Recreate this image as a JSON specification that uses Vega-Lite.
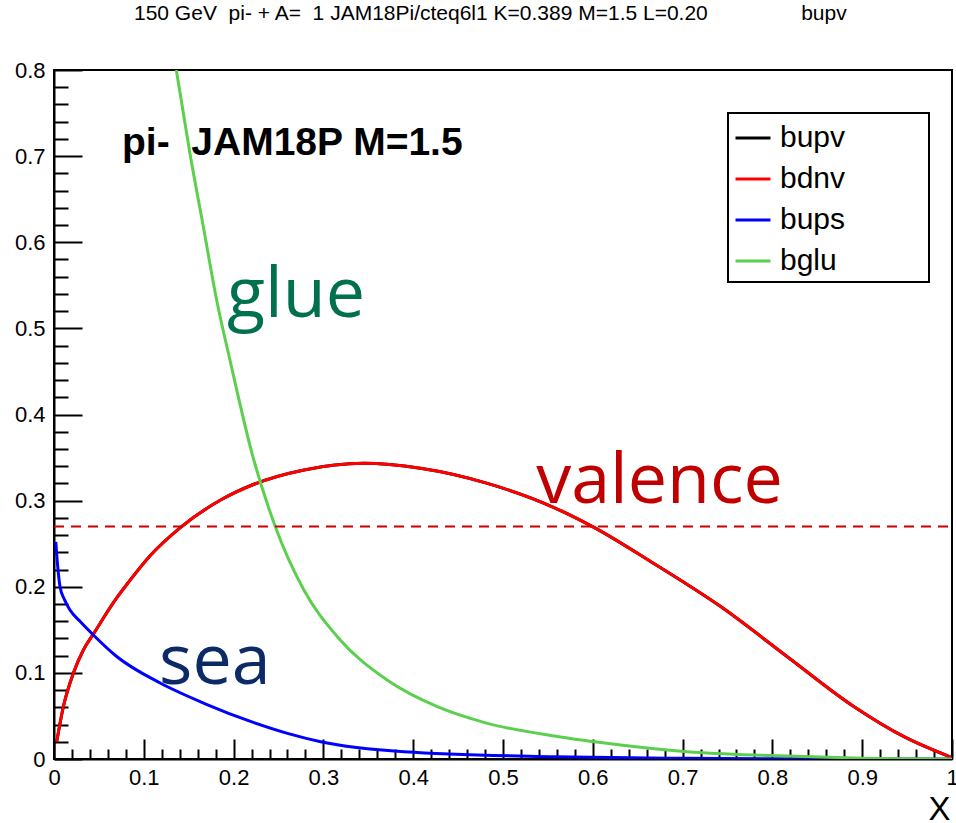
{
  "$schema": "https://vega.github.io/schema/vega-lite/v6.json",
  "width": 898,
  "height": 689,
  "autosize": "none",
  "padding": {"left": 54, "top": 70, "right": 4, "bottom": 64},
  "background": "white",
  "title": {
    "text": "150 GeV\u00a0\u00a0pi- + A=\u00a0\u00a01 JAM18Pi/cteq6l1 K=0.389 M=1.5 L=0.20\u00a0\u00a0\u00a0\u00a0\u00a0\u00a0\u00a0\u00a0\u00a0\u00a0\u00a0\u00a0\u00a0\u00a0\u00a0\u00a0bupv",
    "font": "Liberation Sans",
    "fontSize": 21,
    "fontWeight": "normal",
    "color": "black",
    "anchor": "start",
    "frame": "group",
    "dx": 80,
    "offset": 18,
    "baseline": "alphabetic"
  },
  "config": {
    "view": {"stroke": "black", "strokeWidth": 2},
    "axis": {
      "domainColor": "black",
      "domainWidth": 2,
      "tickColor": "black",
      "tickWidth": 2,
      "grid": false,
      "labelFont": "Liberation Sans",
      "labelFontSize": 22,
      "labelColor": "black",
      "labelOverlap": false,
      "labelFlush": false,
      "labelBound": false
    }
  },
  "datasets": {
    "curves": [
      {"series": "bupv", "x": 0.003, "y": 0.020},
      {"series": "bupv", "x": 0.0104, "y": 0.0607},
      {"series": "bupv", "x": 0.0215, "y": 0.0995},
      {"series": "bupv", "x": 0.0327, "y": 0.1266},
      {"series": "bupv", "x": 0.0438, "y": 0.145},
      {"series": "bupv", "x": 0.0698, "y": 0.187},
      {"series": "bupv", "x": 0.0828, "y": 0.205},
      {"series": "bupv", "x": 0.107, "y": 0.236},
      {"series": "bupv", "x": 0.141, "y": 0.269},
      {"series": "bupv", "x": 0.186, "y": 0.301},
      {"series": "bupv", "x": 0.2227, "y": 0.319},
      {"series": "bupv", "x": 0.2784, "y": 0.3356},
      {"series": "bupv", "x": 0.345, "y": 0.3433},
      {"series": "bupv", "x": 0.408, "y": 0.3375},
      {"series": "bupv", "x": 0.4826, "y": 0.320},
      {"series": "bupv", "x": 0.5568, "y": 0.292},
      {"series": "bupv", "x": 0.6013, "y": 0.269},
      {"series": "bupv", "x": 0.668, "y": 0.227},
      {"series": "bupv", "x": 0.7424, "y": 0.177},
      {"series": "bupv", "x": 0.8166, "y": 0.1188},
      {"series": "bupv", "x": 0.891, "y": 0.0607},
      {"series": "bupv", "x": 0.9465, "y": 0.0259},
      {"series": "bupv", "x": 0.999, "y": 0.002},
      {"series": "bdnv", "x": 0.003, "y": 0.020},
      {"series": "bdnv", "x": 0.0104, "y": 0.0607},
      {"series": "bdnv", "x": 0.0215, "y": 0.0995},
      {"series": "bdnv", "x": 0.0327, "y": 0.1266},
      {"series": "bdnv", "x": 0.0438, "y": 0.145},
      {"series": "bdnv", "x": 0.0698, "y": 0.187},
      {"series": "bdnv", "x": 0.0828, "y": 0.205},
      {"series": "bdnv", "x": 0.107, "y": 0.236},
      {"series": "bdnv", "x": 0.141, "y": 0.269},
      {"series": "bdnv", "x": 0.186, "y": 0.301},
      {"series": "bdnv", "x": 0.2227, "y": 0.319},
      {"series": "bdnv", "x": 0.2784, "y": 0.3356},
      {"series": "bdnv", "x": 0.345, "y": 0.3433},
      {"series": "bdnv", "x": 0.408, "y": 0.3375},
      {"series": "bdnv", "x": 0.4826, "y": 0.320},
      {"series": "bdnv", "x": 0.5568, "y": 0.292},
      {"series": "bdnv", "x": 0.6013, "y": 0.269},
      {"series": "bdnv", "x": 0.668, "y": 0.227},
      {"series": "bdnv", "x": 0.7424, "y": 0.177},
      {"series": "bdnv", "x": 0.8166, "y": 0.1188},
      {"series": "bdnv", "x": 0.891, "y": 0.0607},
      {"series": "bdnv", "x": 0.9465, "y": 0.0259},
      {"series": "bdnv", "x": 0.999, "y": 0.002},
      {"series": "bups", "x": 0.002, "y": 0.252},
      {"series": "bups", "x": 0.004, "y": 0.225},
      {"series": "bups", "x": 0.0067, "y": 0.200},
      {"series": "bups", "x": 0.0117, "y": 0.185},
      {"series": "bups", "x": 0.0178, "y": 0.173},
      {"series": "bups", "x": 0.0297, "y": 0.159},
      {"series": "bups", "x": 0.0438, "y": 0.144},
      {"series": "bups", "x": 0.0698, "y": 0.119},
      {"series": "bups", "x": 0.1188, "y": 0.0879},
      {"series": "bups", "x": 0.167, "y": 0.0647},
      {"series": "bups", "x": 0.2227, "y": 0.0422},
      {"series": "bups", "x": 0.26, "y": 0.0298},
      {"series": "bups", "x": 0.297, "y": 0.0201},
      {"series": "bups", "x": 0.3898, "y": 0.0085},
      {"series": "bups", "x": 0.5568, "y": 0.0027},
      {"series": "bups", "x": 0.7, "y": 0.0008},
      {"series": "bups", "x": 0.85, "y": 0.0002},
      {"series": "bups", "x": 1.0, "y": 0.0},
      {"series": "bglu", "x": 0.1362, "y": 0.8},
      {"series": "bglu", "x": 0.1514, "y": 0.703},
      {"series": "bglu", "x": 0.1663, "y": 0.618},
      {"series": "bglu", "x": 0.1811, "y": 0.533},
      {"series": "bglu", "x": 0.196, "y": 0.463},
      {"series": "bglu", "x": 0.222, "y": 0.349},
      {"series": "bglu", "x": 0.2469, "y": 0.2686},
      {"series": "bglu", "x": 0.2784, "y": 0.196},
      {"series": "bglu", "x": 0.3155, "y": 0.142},
      {"series": "bglu", "x": 0.371, "y": 0.0917},
      {"series": "bglu", "x": 0.4269, "y": 0.0607},
      {"series": "bglu", "x": 0.4826, "y": 0.0414},
      {"series": "bglu", "x": 0.5568, "y": 0.0267},
      {"series": "bglu", "x": 0.631, "y": 0.0163},
      {"series": "bglu", "x": 0.705, "y": 0.0085},
      {"series": "bglu", "x": 0.798, "y": 0.004},
      {"series": "bglu", "x": 0.89, "y": 0.0012},
      {"series": "bglu", "x": 1.0, "y": 0.0}
    ]
  },
  "encoding": {
    "x": {
      "field": "x",
      "type": "quantitative",
      "scale": {"domain": [0, 1], "nice": false, "zero": false},
      "axis": {
        "values": [0, 0.02, 0.04, 0.06, 0.08, 0.1, 0.12, 0.14, 0.16, 0.18, 0.2, 0.22, 0.24, 0.26, 0.28, 0.3, 0.32, 0.34, 0.36, 0.38, 0.4, 0.42, 0.44, 0.46, 0.48, 0.5, 0.52, 0.54, 0.56, 0.58, 0.6, 0.62, 0.64, 0.66, 0.68, 0.7, 0.72, 0.74, 0.76, 0.78, 0.8, 0.82, 0.84, 0.86, 0.88, 0.9, 0.92, 0.94, 0.96, 0.98, 1],
        "tickSize": {"condition": {"test": "abs(datum.value*10 - round(datum.value*10)) < 0.001", "value": -20}, "value": -10},
        "labelExpr": "abs(datum.value*10 - round(datum.value*10)) < 0.001 ? format(datum.value, '.1~f') : ''",
        "labelPadding": 28,
        "title": "X",
        "titleFont": "Liberation Sans",
        "titleFontSize": 33,
        "titleFontWeight": "normal",
        "titleColor": "black",
        "titleAlign": "right",
        "titleBaseline": "alphabetic",
        "titleX": 896,
        "titleY": 60
      }
    },
    "y": {
      "field": "y",
      "type": "quantitative",
      "scale": {"domain": [0, 0.8], "nice": false, "zero": false},
      "axis": {
        "values": [0, 0.02, 0.04, 0.06, 0.08, 0.1, 0.12, 0.14, 0.16, 0.18, 0.2, 0.22, 0.24, 0.26, 0.28, 0.3, 0.32, 0.34, 0.36, 0.38, 0.4, 0.42, 0.44, 0.46, 0.48, 0.5, 0.52, 0.54, 0.56, 0.58, 0.6, 0.62, 0.64, 0.66, 0.68, 0.7, 0.72, 0.74, 0.76, 0.78, 0.8],
        "tickSize": {"condition": {"test": "abs(datum.value*10 - round(datum.value*10)) < 0.001", "value": -28}, "value": -14},
        "labelExpr": "abs(datum.value*10 - round(datum.value*10)) < 0.001 ? format(datum.value, '.1~f') : ''",
        "labelPadding": 37,
        "title": null
      }
    }
  },
  "layer": [
    {
      "data": {"name": "curves"},
      "transform": [{"filter": "datum.series === 'bupv'"}],
      "mark": {"type": "line", "strokeWidth": 3, "clip": true, "interpolate": "monotone"},
      "encoding": {
        "color": {
          "field": "series",
          "type": "nominal",
          "scale": {"domain": ["bupv", "bdnv", "bups", "bglu"], "range": ["#000000", "#ff0000", "#0000ff", "#5ccf4f"]},
          "legend": {
            "orient": "none",
            "legendX": 674,
            "legendY": 43,
            "symbolType": "stroke",
            "symbolSize": 1225,
            "symbolStrokeWidth": 3,
            "labelFont": "Liberation Sans",
            "labelFontSize": 30,
            "labelColor": "black",
            "labelOffset": 8,
            "rowPadding": 7,
            "padding": 6,
            "strokeColor": "black",
            "fillColor": "white",
            "cornerRadius": 0,
            "title": "\u00a0",
            "titleOrient": "right",
            "titleFontSize": 4,
            "titlePadding": 78,
            "encode": {"legend": {"update": {"strokeWidth": {"value": 2}}}}
          }
        }
      }
    },
    {
      "data": {"name": "curves"},
      "transform": [{"filter": "datum.series !== 'bupv'"}],
      "mark": {"type": "line", "strokeWidth": 3, "clip": true, "interpolate": "monotone"},
      "encoding": {
        "color": {"field": "series", "type": "nominal"}
      }
    },
    {
      "data": {"values": [{"x": 0, "xEnd": 1, "y": 0.27}]},
      "mark": {"type": "rule", "color": "#cc0000", "strokeWidth": 2, "strokeDash": [10, 7]},
      "encoding": {"x2": {"field": "xEnd"}}
    },
    {
      "data": {"values": [{"x": 0.0757, "y": 0.701, "label": "pi-\u00a0\u00a0JAM18P M=1.5"}]},
      "mark": {"type": "text", "font": "Liberation Sans", "fontSize": 39, "fontWeight": "bold", "color": "black", "align": "left", "baseline": "alphabetic"},
      "encoding": {"text": {"field": "label"}}
    },
    {
      "data": {"values": [{"x": 0.1927, "y": 0.513, "label": "glue"}]},
      "mark": {"type": "text", "font": "Open Sans", "fontSize": 70, "color": "#00704f", "align": "left", "baseline": "alphabetic"},
      "encoding": {"text": {"field": "label"}}
    },
    {
      "data": {"values": [{"x": 0.537, "y": 0.297, "label": "valence"}]},
      "mark": {"type": "text", "font": "Open Sans", "fontSize": 70, "color": "#c00000", "align": "left", "baseline": "alphabetic"},
      "encoding": {"text": {"field": "label"}}
    },
    {
      "data": {"values": [{"x": 0.117, "y": 0.087, "label": "sea"}]},
      "mark": {"type": "text", "font": "Open Sans", "fontSize": 70, "color": "#0c2a66", "align": "left", "baseline": "alphabetic"},
      "encoding": {"text": {"field": "label"}}
    }
  ]
}
